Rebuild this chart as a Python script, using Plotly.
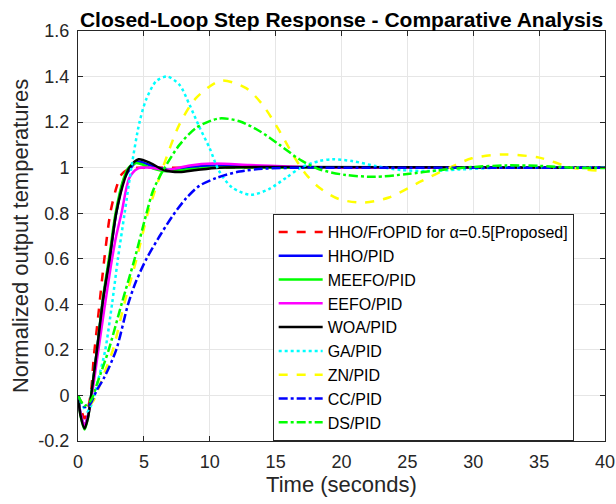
import plotly.graph_objects as go

# ---- data ----
t_fropid = [0, 0.5, 0.95, 1.2, 1.5, 2.0, 2.45, 2.9, 3.3, 3.9, 5, 7, 10, 20, 30, 40]
y_fropid = [0, -0.1, 0.0, 0.17, 0.33, 0.6, 0.8, 0.91, 0.97, 0.995, 1.0, 1.0, 1.0, 1.0, 1.0, 1.0]

t_hho = [0, 0.2, 0.5, 0.75, 1.0, 1.44, 1.9, 2.4, 2.9, 3.5, 3.9, 4.5, 5.5, 7, 9, 11, 15, 20, 40]
y_hho = [0, -0.08, -0.13, -0.09, 0, 0.2, 0.42, 0.6, 0.8, 0.95, 0.99, 1.027, 1.01, 0.99, 1.005, 1.01, 1.002, 1.0, 1.0]

t_meefo = [0, 0.2, 0.5, 0.75, 1.0, 1.44, 1.9, 2.4, 2.85, 3.45, 3.85, 4.4, 5.5, 6.5, 8, 10, 15, 40]
y_meefo = [0, -0.09, -0.15, -0.1, 0, 0.2, 0.43, 0.62, 0.8, 0.95, 1.0, 1.02, 1.0, 0.985, 0.99, 1.0, 1.0, 1.0]

t_eefo = [0, 0.2, 0.5, 0.75, 1.05, 1.5, 2.0, 2.5, 2.9, 3.3, 3.9, 4.5, 5.5, 6.7, 8.5, 10.2, 13, 16, 20, 40]
y_eefo = [0, -0.08, -0.13, -0.09, 0, 0.18, 0.38, 0.57, 0.7, 0.8, 0.955, 0.995, 1.0, 0.99, 1.01, 1.018, 1.012, 1.005, 1.0, 1.0]

t_woa = [0, 0.2, 0.5, 0.75, 1.0, 1.44, 1.9, 2.4, 2.9, 3.54, 3.9, 4.6, 5.5, 6.5, 7.7, 9, 10.7, 15, 40]
y_woa = [0, -0.09, -0.145, -0.1, 0.0, 0.2, 0.42, 0.6, 0.8, 0.95, 1.0, 1.037, 1.02, 0.99, 0.981, 0.99, 1.0, 1.003, 1.0]

t_ga = [0, 0.3, 0.7, 1.1, 1.5, 2.07, 2.58, 3.03, 3.54, 4.05, 4.67, 5.18, 5.94, 6.77, 7.7, 8.46, 9.2, 9.98,
        10.7, 11.7, 13.1, 14.5, 15.8, 17.0, 18.3, 19.3, 20.8, 22.6, 24.5, 26.5, 29, 32, 40]
y_ga = [0, -0.04, -0.07, -0.03, 0.06, 0.2, 0.4, 0.6, 0.8, 1.0, 1.2, 1.3, 1.38, 1.40, 1.364, 1.277, 1.18, 1.087,
        0.986, 0.913, 0.881, 0.906, 0.956, 1.003, 1.029, 1.037, 1.029, 1.007, 0.99, 0.985, 0.992, 1.0, 1.0]

t_zn = [0, 0.3, 0.7, 1.2, 1.8, 2.65, 3.5, 4.45, 5.3, 6.44, 7.7, 8.97, 10.86, 12.76, 14.0, 15.3, 16.3, 17.3,
        18.3, 19.8, 21.6, 23.6, 26.1, 28.2, 29.9, 32.2, 35.0, 37.5, 40]
y_zn = [0, -0.03, -0.05, -0.02, 0.07, 0.2, 0.4, 0.6, 0.8, 1.0, 1.19, 1.306, 1.382, 1.349, 1.277, 1.16, 1.058,
        0.971, 0.913, 0.862, 0.847, 0.869, 0.942, 1.0, 1.041, 1.058, 1.044, 1.0, 0.984]

t_cc = [0, 0.5, 0.9, 1.4, 2.0, 2.9, 3.8, 4.4, 5.2, 6.2, 7.2, 8.2, 9.2, 10.5, 12.25, 14, 17, 20, 40]
y_cc = [0, -0.05, -0.04, 0.02, 0.08, 0.2, 0.4, 0.5, 0.6, 0.7, 0.79, 0.865, 0.92, 0.955, 0.983, 0.995, 1.0, 1.0, 1.0]

t_ds = [0, 0.5, 1.0, 1.5, 2.33, 3.3, 4.3, 5.2, 5.7, 6.44, 7.7, 8.97, 10.7, 12.25, 13.8, 15.3, 16.8, 18.3,
        20.3, 22.5, 25, 27.4, 30, 32.5, 35, 37.5, 40]
y_ds = [0, -0.045, -0.02, 0.06, 0.2, 0.4, 0.6, 0.8, 0.9, 0.986, 1.10, 1.175, 1.216, 1.204, 1.16, 1.10, 1.037,
        0.993, 0.968, 0.96, 0.972, 0.989, 1.003, 1.01, 1.008, 1.0, 0.998]

names = ["HHO/FrOPID for \u03b1=0.5[Proposed]", "HHO/PID", "MEEFO/PID", "EEFO/PID", "WOA/PID",
         "GA/PID", "ZN/PID", "CC/PID", "DS/PID"]
x_ticks = [0, 5, 10, 15, 20, 25, 30, 35, 40]
y_ticks = [-0.2, 0, 0.2, 0.4, 0.6, 0.8, 1, 1.2, 1.4, 1.6]
y_tick_text = ["-0.2", "0", "0.2", "0.4", "0.6", "0.8", "1", "1.2", "1.4", "1.6"]

series = [
    (t_fropid, y_fropid, "#ff0000", "dash"),
    (t_hho, y_hho, "#0000ff", "solid"),
    (t_meefo, y_meefo, "#00ff00", "solid"),
    (t_eefo, y_eefo, "#ff00ff", "solid"),
    (t_woa, y_woa, "#000000", "solid"),
    (t_ga, y_ga, "#00ffff", "dot"),
    (t_zn, y_zn, "#ffff00", "dash"),
    (t_cc, y_cc, "#0000ff", "dashdot"),
    (t_ds, y_ds, "#00ff00", "dashdot"),
]

FONT = "Liberation Sans, Arial, Helvetica, sans-serif"

fig = go.Figure()
for (tx, ty, col, dash), nm in zip(series, names):
    fig.add_trace(go.Scatter(x=tx, y=ty, mode="lines", name=nm,
                             line=dict(color=col, width=2.5, dash=dash, shape="spline", smoothing=0.8)))

axis_common = dict(showline=True, linecolor="#262626", linewidth=1, mirror="ticks",
                   ticks="inside", ticklen=5, tickcolor="#262626", automargin=False,
                   showgrid=True, gridcolor="#e6e6e6", gridwidth=1, zeroline=False,
                   tickfont=dict(family=FONT, size=18, color="#262626"))

fig.update_layout(
    width=616, height=504,
    paper_bgcolor="white", plot_bgcolor="white",
    margin=dict(l=78, r=11, t=31, b=63),
    title=dict(text="<b>Closed-Loop Step Response - Comparative Analysis</b>",
               font=dict(family=FONT, size=21, color="black"),
               x=0.5, xref="paper", xanchor="center", y=0.961, yref="container", yanchor="middle"),
    xaxis=dict(range=[0, 40], tickvals=x_ticks, ticklabelstandoff=4,
               title=dict(text="Time (seconds)", font=dict(family=FONT, size=22, color="#262626"), standoff=4),
               **axis_common),
    yaxis=dict(range=[-0.2, 1.6], tickvals=y_ticks, ticktext=y_tick_text, ticklabelstandoff=4,
               title=dict(text="Normalized output temperatures", font=dict(family=FONT, size=22, color="#262626"), standoff=3),
               **axis_common),
    legend=dict(x=0.3694, y=0.5537, xanchor="left", yanchor="top",
                bgcolor="white", bordercolor="#262626", borderwidth=1,
                font=dict(family=FONT, size=16, color="black"),
                itemwidth=44, tracegroupgap=0),
    showlegend=True,
)

fig.write_html("out.html", config={"displayModeBar": False},
               post_script="document.body.style.margin='0px';")
